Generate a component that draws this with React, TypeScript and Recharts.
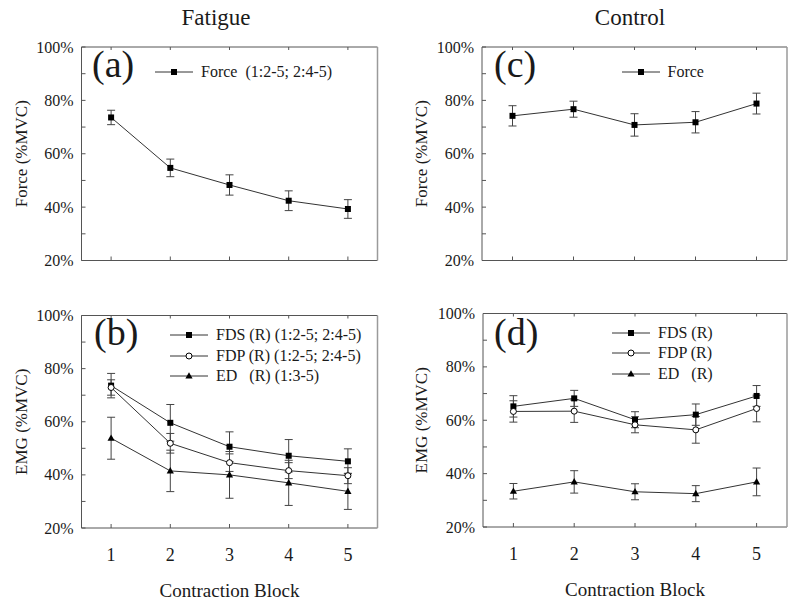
import React from 'react';
import { LineChart, Line, XAxis, YAxis, ErrorBar, Legend } from 'recharts';

const FONT = 'Liberation Serif, Times New Roman, Times, DejaVu Serif, serif';
const INK = '#1a1a1a';
const LINE = '#333';
const AXIS_DARK = '#555';
const AXIS_LIGHT = '#9a9a9a';
const M = 10; // tickMargin used on every axis, custom ticks draw their own lines

const blocks = [1, 2, 3, 4, 5];
const yTicks = [20, 30, 40, 50, 60, 70, 80, 90, 100];

// (a) Fatigue - force
const fatigueForce = [73.6, 54.7, 48.3, 42.4, 39.3];
const fatigueForceSd = [2.7, 3.3, 3.8, 3.7, 3.5];

// (b) Fatigue - EMG
const fatigueFds = [73.6, 59.6, 50.6, 47.2, 45.1];
const fatigueFdsSd = [4.6, 6.9, 5.6, 6.1, 4.7];
const fatigueFdp = [72.9, 51.9, 44.6, 41.6, 39.7];
const fatigueFdpSd = [2.9, 3.7, 3.3, 3.0, 3.0];
const fatigueEd = [53.8, 41.5, 40.0, 37.0, 33.8];
const fatigueEdSd = [7.9, 7.8, 8.8, 8.5, 6.8];

// (c) Control - force
const controlForce = [74.2, 76.7, 70.8, 71.8, 78.8];
const controlForceSd = [3.8, 3.0, 4.2, 4.0, 3.9];

// (d) Control - EMG
const controlFds = [65.2, 68.2, 60.2, 62.1, 69.1];
const controlFdsSd = [4.0, 3.0, 3.0, 4.0, 3.9];
const controlFdp = [63.3, 63.4, 58.3, 56.4, 64.4];
const controlFdpSd = [4.0, 4.2, 3.0, 5.0, 5.0];
const controlEd = [33.4, 36.9, 33.2, 32.5, 36.9];
const controlEdSd = [2.9, 4.2, 3.0, 3.0, 5.2];

type Shape = 'square' | 'circle' | 'triangle';
type Series = { key: string; name: string; shape: Shape };

const forceSeries = (name: string): Series[] => [{ key: 'force', name, shape: 'square' }];
const emgSeries = (fds: string, fdp: string, ed: string): Series[] => [
  { key: 'fds', name: fds, shape: 'square' },
  { key: 'fdp', name: fdp, shape: 'circle' },
  { key: 'ed', name: ed, shape: 'triangle' },
];

const forceRows = (v: number[], sd: number[]) =>
  blocks.map((b, i) => ({ block: b, force: v[i], forceErr: sd[i] }));
const emgRows = (fds: number[], fdsSd: number[], fdp: number[], fdpSd: number[], ed: number[], edSd: number[]) =>
  blocks.map((b, i) => ({
    block: b,
    fds: fds[i], fdsErr: fdsSd[i],
    fdp: fdp[i], fdpErr: fdpSd[i],
    ed: ed[i], edErr: edSd[i],
  }));

function Marker({ shape, cx, cy }: { shape: Shape; cx?: number; cy?: number }) {
  if (cx == null || cy == null) return null;
  if (shape === 'square') return <rect x={cx - 3} y={cy - 3} width={6} height={6} fill="#000" />;
  if (shape === 'circle') return <circle cx={cx} cy={cy} r={3} fill="#fff" stroke="#000" strokeWidth={1} />;
  return <path d={`M${cx},${cy - 3.8}L${cx + 3.6},${cy + 2.6}L${cx - 3.6},${cy + 2.6}Z`} fill="#000" />;
}

const dotFor = (shape: Shape) => (p: any) =>
  <Marker key={`${shape}-${p.index}`} shape={shape} cx={p.cx} cy={p.cy} />;

// inward ticks, like the original plotting package
const LeftTick = (p: any) => {
  const ax = p.x + M;
  const v = p.payload.value;
  return (
    <g>
      <line x1={ax} x2={ax + 4} y1={p.y} y2={p.y} stroke={AXIS_DARK} />
      {v % 20 === 0 && (
        <text x={ax - 8} y={p.y} textAnchor="end" dominantBaseline="central"
          style={{ fontFamily: FONT }} fontSize={16} fill={INK}>{v}%</text>
      )}
    </g>
  );
};
const RightTick = (p: any) => {
  const ax = p.x - M;
  return <line x1={ax - 3} x2={ax + 3} y1={p.y} y2={p.y} stroke={AXIS_LIGHT} />;
};
const TopTick = (p: any) => {
  const ay = p.y + M;
  return <line x1={p.x} x2={p.x} y1={ay} y2={ay + 3} stroke={AXIS_DARK} />;
};
const bottomTick = (labels: boolean) => (p: any) => {
  const ay = p.y - M;
  return (
    <g>
      <line x1={p.x} x2={p.x} y1={ay} y2={ay - 4} stroke={AXIS_DARK} />
      {labels && (
        <text x={p.x} y={ay + 27} textAnchor="middle" dominantBaseline="central"
          style={{ fontFamily: FONT }} fontSize={18} fill={INK}>{p.payload.value}</text>
      )}
    </g>
  );
};

const YTitle = (text: string) => (p: any) => {
  const vb = p.viewBox;
  const x = vb.x + 27;
  const y = vb.y + vb.height / 2;
  return (
    <text x={x} y={y} transform={`rotate(-90 ${x} ${y})`} textAnchor="middle"
      style={{ fontFamily: FONT }} fontSize={17} fill={INK}>{text}</text>
  );
};
const XTitle = (p: any) => {
  const vb = p.viewBox;
  return (
    <text x={vb.x + vb.width / 2} y={vb.y + 69} textAnchor="middle"
      style={{ fontFamily: FONT }} fontSize={19} fill={INK}>Contraction Block</text>
  );
};

// rows follow the series order (top to bottom as in the figure)
const legendFor = (series: Series[]) => () => (
  <div style={{ fontFamily: FONT, fontSize: 16, color: INK, lineHeight: 1 }}>
    {series.map((s) => (
      <div key={s.key} style={{ display: 'flex', alignItems: 'center', height: 20.5 }}>
        <svg width={38} height={10} style={{ display: 'block' }}>
          <line x1={0} x2={38} y1={5} y2={5} stroke={LINE} />
          <Marker shape={s.shape} cx={19} cy={5} />
        </svg>
        <span style={{ marginLeft: 8, whiteSpace: 'pre' }}>{s.name}</span>
      </div>
    ))}
  </div>
);

type PanelProps = {
  left: number; top: number; width: number; height: number;
  margin: { top: number; right: number; left: number; bottom: number };
  yAxisWidth: number; bottomHeight: number; xLabels: boolean;
  data: any[]; series: Series[]; yTitle: string;
  legendLeft: number; legendTop: number;
};

function Panel(p: PanelProps) {
  return (
    <div style={{ position: 'absolute', left: p.left, top: p.top }}>
      <LineChart width={p.width} height={p.height} data={p.data} margin={p.margin}>
        <XAxis dataKey="block" type="number" domain={[0.5, 5.5]} ticks={blocks} interval={0}
          height={p.bottomHeight} tickSize={0} tickMargin={M} stroke={AXIS_DARK}
          tick={bottomTick(p.xLabels)} label={p.xLabels ? XTitle : undefined} />
        <XAxis xAxisId="top" orientation="top" dataKey="block" type="number" domain={[0.5, 5.5]}
          ticks={blocks} interval={0} height={1} tickSize={0} tickMargin={M}
          stroke={AXIS_DARK} tick={TopTick} />
        <YAxis type="number" domain={[20, 100]} ticks={yTicks} interval={0} width={p.yAxisWidth}
          tickSize={0} tickMargin={M} stroke={AXIS_DARK} tick={LeftTick} label={YTitle(p.yTitle)} />
        <YAxis yAxisId="right" orientation="right" type="number" domain={[20, 100]} ticks={yTicks}
          interval={0} width={1} tickSize={0} tickMargin={M} stroke={AXIS_LIGHT} strokeWidth={1.5}
          tick={RightTick} />
        <Legend layout="vertical" align="center" verticalAlign="middle"
          wrapperStyle={{ left: p.legendLeft, top: p.legendTop, width: 'auto' }}
          content={legendFor(p.series)} />
        {p.series.map((s) => (
          <Line key={s.key} dataKey={s.key} name={s.name} stroke={LINE} strokeWidth={1}
            dot={dotFor(s.shape)} activeDot={false} isAnimationActive={false}>
            <ErrorBar dataKey={`${s.key}Err`} direction="y" width={4} stroke="#444" strokeWidth={1} />
          </Line>
        ))}
      </LineChart>
    </div>
  );
}

export default function App() {
  const label = { style: { fontFamily: FONT }, fill: INK };
  return (
    <div style={{ position: 'absolute', left: 0, top: 0, width: 800, height: 606, background: '#fff', fontFamily: FONT }}>
      <Panel left={0} top={0} width={400} height={275}
        margin={{ top: 46, right: 21.5, left: 0, bottom: 0 }} yAxisWidth={81.5} bottomHeight={14.5}
        xLabels={false} data={forceRows(fatigueForce, fatigueForceSd)}
        series={forceSeries('Force  (1:2-5; 2:4-5)')} yTitle="Force (%MVC)"
        legendLeft={155} legendTop={61.5} />
      <Panel left={0} top={275} width={400} height={331}
        margin={{ top: 39.5, right: 21.5, left: 0, bottom: 0 }} yAxisWidth={81.5} bottomHeight={78}
        xLabels={true}
        data={emgRows(fatigueFds, fatigueFdsSd, fatigueFdp, fatigueFdpSd, fatigueEd, fatigueEdSd)}
        series={emgSeries('FDS (R) (1:2-5; 2:4-5)', 'FDP (R) (1:2-5; 2:4-5)', 'ED   (R) (1:3-5)')}
        yTitle="EMG (%MVC)" legendLeft={170} legendTop={49.75} />
      <Panel left={400} top={0} width={400} height={275}
        margin={{ top: 46, right: 12, left: 0, bottom: 0 }} yAxisWidth={82} bottomHeight={14.5}
        xLabels={false} data={forceRows(controlForce, controlForceSd)}
        series={forceSeries('Force')} yTitle="Force (%MVC)"
        legendLeft={221.5} legendTop={62} />
      <Panel left={400} top={275} width={400} height={331}
        margin={{ top: 37.5, right: 12, left: 0, bottom: 0 }} yAxisWidth={83} bottomHeight={79}
        xLabels={true}
        data={emgRows(controlFds, controlFdsSd, controlFdp, controlFdpSd, controlEd, controlEdSd)}
        series={emgSeries('FDS (R)', 'FDP (R)', 'ED   (R)')}
        yTitle="EMG (%MVC)" legendLeft={212} legendTop={47.5} />
      <svg width={800} height={606} style={{ position: 'absolute', left: 0, top: 0, pointerEvents: 'none' }}>
        <text x={216} y={25} textAnchor="middle" fontSize={23} {...label}>Fatigue</text>
        <text x={630} y={25} textAnchor="middle" fontSize={23} {...label}>Control</text>
        <text x={92} y={77} fontSize={38} {...label}>(a)</text>
        <text x={94} y={345} fontSize={38} {...label}>(b)</text>
        <text x={494} y={77} fontSize={38} {...label}>(c)</text>
        <text x={494} y={345} fontSize={38} {...label}>(d)</text>
      </svg>
    </div>
  );
}
